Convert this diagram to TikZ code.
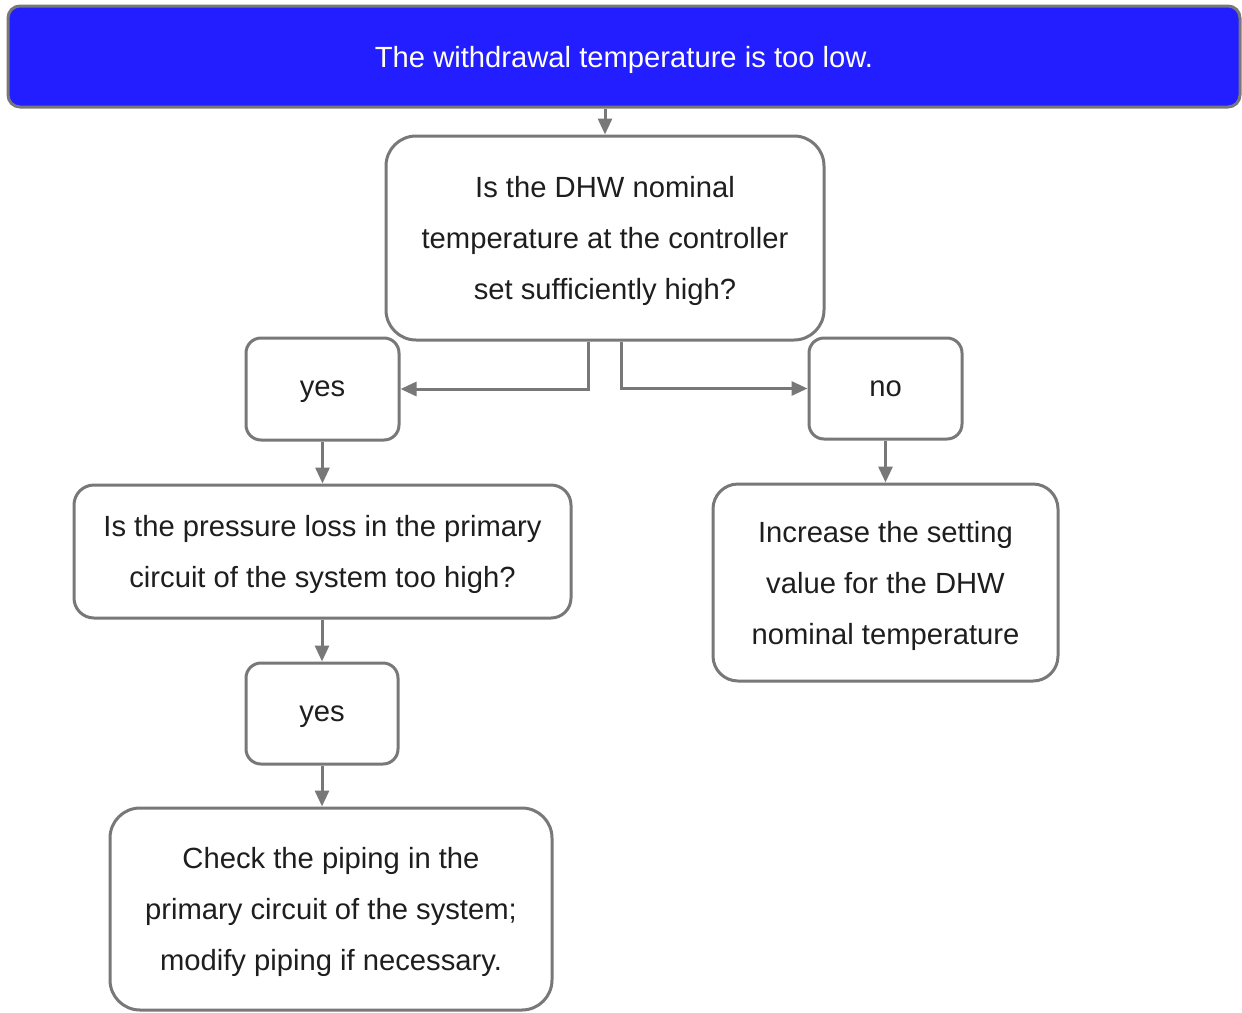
\documentclass[tikz,border=0pt]{standalone}
\usepackage{fontspec}
\setmainfont{Liberation Sans}
\usetikzlibrary{arrows.meta}
\definecolor{boxgray}{RGB}{120,120,120}
\definecolor{headblue}{RGB}{34,30,255}
\definecolor{txt}{RGB}{30,30,30}

\begin{document}
\begin{tikzpicture}[x=1pt,y=-1pt,
  box/.style={draw=boxgray,line width=3pt,fill=white,text=txt,align=center,inner sep=0pt,
    text depth=0pt,font=\fontsize{29.2}{51}\selectfont},
  head/.style={box,fill=headblue,text=white,rounded corners=12pt,minimum width=1232pt,minimum height=101pt},
  link/.style={-{Triangle[length=16pt,width=14pt]},draw=boxgray,line width=3pt},
]
\useasboundingbox (0,0) rectangle (1242,1012);
\node[head] (top) at (624,56.5) {The withdrawal temperature is too low.};
\node[box,rounded corners=30pt,minimum width=438pt,minimum height=204pt] (q1) at (605,238)
  {Is the DHW nominal\\temperature at the controller\\set sufficiently high?};
\node[box,rounded corners=15pt,minimum width=153pt,minimum height=102pt] (yesA) at (322.5,389) {yes};
\node[box,rounded corners=15pt,minimum width=153pt,minimum height=101pt] (noA) at (885.5,388.5) {no};
\node[box,rounded corners=20pt,minimum width=497pt,minimum height=133pt] (q2) at (322.5,551.5)
  {Is the pressure loss in the primary\\circuit of the system too high?};
\node[box,rounded corners=25pt,minimum width=345pt,minimum height=197pt] (inc) at (885.5,582.5)
  {Increase the setting\\value for the DHW\\nominal temperature};
\node[box,rounded corners=15pt,minimum width=152pt,minimum height=101pt] (yesB) at (322,713.5) {yes};
\node[box,rounded corners=30pt,minimum width=442pt,minimum height=202pt] (chk) at (331,909)
  {Check the piping in the\\primary circuit of the system;\\modify piping if necessary.};
\draw[link] (top.south -| q1.north) -- (q1.north);
\draw[link] ([xshift=-17pt]q1.south) |- (yesA.east);
\draw[link] ([xshift=16pt]q1.south) |- (noA.west);
\draw[link] (yesA.south) -- (yesA.south |- q2.north);
\draw[link] (noA.south) -- (noA.south |- inc.north);
\draw[link] (q2.south -| yesB.north) -- (yesB.north);
\draw[link] (yesB.south) -- (yesB.south |- chk.north);
\end{tikzpicture}
\end{document}
